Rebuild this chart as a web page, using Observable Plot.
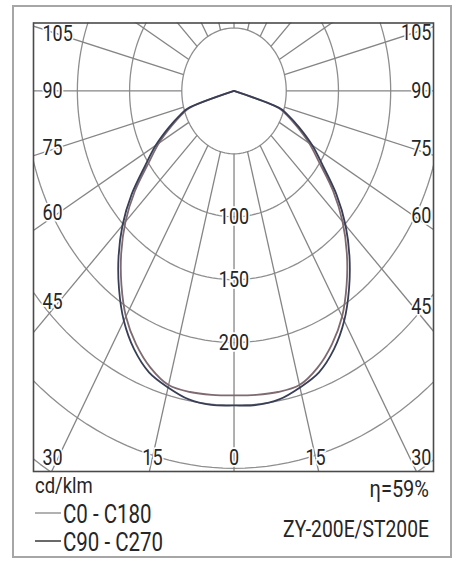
<!DOCTYPE html>
<html><head><meta charset="utf-8">
<script src="https://cdn.jsdelivr.net/npm/d3@7"></script>
<script src="https://cdn.jsdelivr.net/npm/@observablehq/plot@0.6"></script>
<style>
body{margin:0;background:#fff;}
#wrap{position:relative;width:458px;height:565px;overflow:hidden;background:#fff;}
#outer{position:absolute;left:12px;top:5px;width:436px;height:549px;border:2px solid #a6a6a6;}
#chart{position:absolute;left:0;top:0;}
#legend{position:absolute;left:0;top:0;pointer-events:none;}
</style></head><body>
<div id="wrap"><div id="outer"></div><div id="chart"></div><svg id="legend" width="458" height="565"></svg></div>
<script>
// ---- data (cd/klm), angle from nadir in degrees ----
const angles   = [0, 5, 10, 15, 20, 25, 30, 35, 40, 45, 50, 55, 60, 65, 70, 72.5, 75];
const c0c180   = [242, 242.5, 243, 242, 234, 222, 207, 188, 168, 147, 124, 100, 83, 66, 52, 44, 0];
const c90c270  = [250, 250.5, 249, 244, 238, 226.5, 211, 192, 172, 151, 128, 104, 86.5, 69, 54, 46.5, 0];
const seriesNames  = ["C0 - C180", "C90 - C270"];
const seriesColors = ["#7e6a70", "#383e55"];
const legendLineColors = ["#a9a9a9", "#5a5a5a"];

const gridRadii   = [50, 100, 150, 200, 250, 300, 350];
const spokeAngles = [0, 15, 30, 45, 60, 75, 90, 105, 120, 135, 150, 165, 180];
const radialLabels = [100, 150, 200];
const sideLabelAngles = [45, 60, 75, 90, 105];
const bottomLabelAngles = [0, 15];
const cornerLabelAngle = 30;
const unitLabel = "cd/klm";
const efficiencyLabel = "η=59%";
const modelLabel = "ZY-200E/ST200E";

// ---- geometry helpers ----
const xDomain = [-192, 191];
const yDomain = [-302.5, 54];
const rad = d => d * Math.PI / 180;
const FONT = "Roboto, 'Liberation Sans', sans-serif";
const STRETCH = 1.22;

const circlePts = [];
for (const r of gridRadii) for (let t = 0; t <= 360; t += 2)
  circlePts.push({r, x: r * Math.sin(rad(t)), y: -r * Math.cos(rad(t))});

const spokes = [];
for (const a of spokeAngles) for (const s of [-1, 1]) {
  if (s === -1 && (a === 0 || a === 180)) continue;
  spokes.push({x1: s * 50 * Math.sin(rad(a)), y1: -50 * Math.cos(rad(a)),
               x2: s * 600 * Math.sin(rad(a)), y2: -600 * Math.cos(rad(a))});
}

const curve = [];
[c0c180, c90c270].forEach((vals, k) => {
  const name = seriesNames[k];
  for (let i = angles.length - 1; i >= 0; i--)
    curve.push({series: name, x: -vals[i] * Math.sin(rad(angles[i])), y: -vals[i] * Math.cos(rad(angles[i]))});
  for (let i = 1; i < angles.length; i++)
    curve.push({series: name, x: vals[i] * Math.sin(rad(angles[i])), y: -vals[i] * Math.cos(rad(angles[i]))});
});

// angle labels positioned on their spokes near the frame
const leftX = xDomain[0] + 8.6, rightX = xDomain[1] - 2;
const rayY = (a, X) => (a === 90 ? 0 : -X / Math.tan(rad(a)));
const leftLabels = sideLabelAngles.map(a => ({t: String(a), x: leftX, y: rayY(a, 168)}));
const rightLabels = sideLabelAngles.map(a => ({t: String(a), x: rightX, y: rayY(a, 172)}));
const yBot = yDomain[0] + 11;
const bottomLabels = [];
for (const a of bottomLabelAngles) for (const s of (a === 0 ? [1] : [-1, 1]))
  bottomLabels.push({t: String(a), x: s * (-yBot) * Math.tan(rad(a)), y: yBot});
const cornerLeft = [{t: String(cornerLabelAngle), x: leftX, y: yBot}];
const cornerRight = [{t: String(cornerLabelAngle), x: rightX, y: yBot}];

const txt = {fill: "#262626", stroke: "white", strokeWidth: 3, fontSize: 18, fontFamily: FONT};

const chart = Plot.plot({
  width: 458, height: 475,
  marginLeft: 33, marginRight: 25, marginTop: 22.5, marginBottom: 4,
  x: {domain: xDomain, axis: null},
  y: {domain: yDomain, axis: null},
  color: {domain: seriesNames, range: seriesColors},
  style: {background: "none", overflow: "visible"},
  marks: [
    Plot.line(circlePts, {x: "x", y: "y", z: "r", stroke: "#8e8e8e", strokeWidth: 1.3, clip: true}),
    Plot.link(spokes, {x1: "x1", y1: "y1", x2: "x2", y2: "y2", stroke: "#858585", strokeWidth: 1.3, clip: true}),
    Plot.line(curve, {x: "x", y: "y", z: "series", stroke: "series", strokeWidth: 1.8, curve: "catmull-rom"}),
    Plot.text(radialLabels, {x: 0, y: d => -d, text: d => String(d), ...txt}),
    Plot.text(leftLabels, {x: "x", y: "y", text: "t", textAnchor: "start", ...txt}),
    Plot.text(rightLabels, {x: "x", y: "y", text: "t", textAnchor: "end", ...txt}),
    Plot.text(bottomLabels, {x: "x", y: "y", text: "t", ...txt}),
    Plot.text(cornerLeft, {x: "x", y: "y", text: "t", textAnchor: "start", ...txt}),
    Plot.text(cornerRight, {x: "x", y: "y", text: "t", textAnchor: "end", ...txt}),
    Plot.frame({stroke: "#4a4a4a", strokeWidth: 1.6})
  ]
});
// the reference lettering is tall and narrow: stretch each label vertically about its own anchor
d3.select(chart).selectAll("text").each(function() {
  const el = d3.select(this);
  const tr = el.attr("transform");
  if (tr) el.attr("transform", tr + ` scale(1,${STRETCH})`);
  else {
    const x = +el.attr("x") || 0, y = +el.attr("y") || 0;
    el.attr("x", null).attr("y", null).attr("transform", `translate(${x},${y}) scale(1,${STRETCH})`);
  }
});
document.getElementById("chart").appendChild(chart);

// ---- caption / legend below the frame ----
const lg = d3.select("#legend").style("font-family", FONT).attr("fill", "#262626");
const addText = (x, y, size, s, anchor) =>
  lg.append("text").attr("transform", `translate(${x},${y}) scale(1,${STRETCH})`)
    .attr("font-size", size).attr("text-anchor", anchor || "start").text(s);
addText(35, 493, 18.5, unitLabel);
addText(429, 497, 20, efficiencyLabel, "end");
addText(429, 537, 19.3, modelLabel, "end");
seriesNames.forEach((n, i) => {
  const y = 513 + i * 28;
  lg.append("line").attr("x1", 35).attr("x2", 61).attr("y1", y).attr("y2", y)
    .attr("stroke", legendLineColors[i]).attr("stroke-width", 1.8);
  addText(63, y + 9.5, 20.5, n);
});
</script>
</body></html>
